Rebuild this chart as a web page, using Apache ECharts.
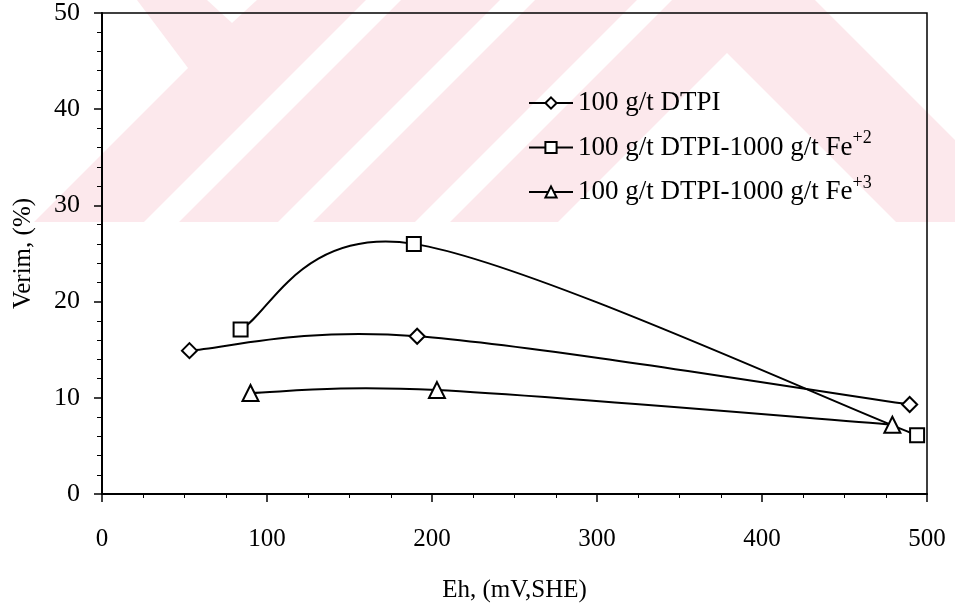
<!DOCTYPE html>
<html>
<head>
<meta charset="utf-8">
<script src="https://cdn.jsdelivr.net/npm/echarts@6/dist/echarts.min.js"></script>
<style>
  html, body { margin: 0; padding: 0; background: #fff; }
  #chart { width: 955px; height: 611px; }
</style>
</head>
<body>
<div id="chart"></div>
<script>
// values
const seriesNames = ['100 g/t DTPI', '100 g/t DTPI-1000 g/t Fe', '100 g/t DTPI-1000 g/t Fe'];
const seriesSup = ['', '+2', '+3'];
const seriesSymbols = ['diamond', 'rect', 'triangle'];

const ehDTPI = [53, 191, 489.5];
const verimDTPI = [14.9, 16.4, 9.3];

const ehFe2 = [84, 189, 494];
const verimFe2 = [17.1, 26.0, 6.1];

const ehFe3 = [90, 203, 479];
const verimFe3 = [10.5, 10.8, 7.2];

const FONT = '"Liberation Serif", "Times New Roman", serif';

const chart = echarts.init(document.getElementById('chart'));

// faint pink watermark behind the plot
const PINK = '#fce8ec';
const wm = (points, fill) => ({
  type: 'polygon',
  shape: { points: points },
  style: { fill: fill }
});
const watermark = [
  wm([[0, 0], [955, 0], [955, 222], [0, 222]], PINK),
  wm([[0, 0], [137, 0], [188, 68], [34, 222], [0, 222]], '#fff'),
  wm([[207, 0], [257, 0], [232, 23]], '#fff'),
  wm([[366, 0], [401, 0], [179, 222], [144, 222]], '#fff'),
  wm([[500, 0], [535, 0], [313, 222], [278, 222]], '#fff'),
  wm([[637, 0], [672, 0], [450, 222], [415, 222]], '#fff'),
  wm([[727, 53], [896, 222], [558, 222]], '#fff'),
  wm([[815, 0], [955, 0], [955, 140]], '#fff')
];

const pairs = (xs, ys) => xs.map((x, i) => [x, ys[i]]);
const seriesData = [pairs(ehDTPI, verimDTPI), pairs(ehFe2, verimFe2), pairs(ehFe3, verimFe3)];
const symbolSizes = [15, 14, 16];
const legendKey = (i) => seriesNames[i] + (seriesSup[i] ? ' ' + seriesSup[i] : '');

// spreadsheet-style smoothed curve through the data points (bezier, 1/6 tangents)
function smoothPath(pts) {
  let d = 'M' + pts[0][0] + ' ' + pts[0][1];
  for (let i = 0; i < pts.length - 1; i++) {
    const p0 = pts[Math.max(i - 1, 0)];
    const p1 = pts[i];
    const p2 = pts[i + 1];
    const p3 = pts[Math.min(i + 2, pts.length - 1)];
    const c1 = [p1[0] + (p2[0] - p0[0]) / 6, p1[1] + (p2[1] - p0[1]) / 6];
    const c2 = [p2[0] - (p3[0] - p1[0]) / 6, p2[1] - (p3[1] - p1[1]) / 6];
    d += ' C' + c1[0] + ' ' + c1[1] + ' ' + c2[0] + ' ' + c2[1] + ' ' + p2[0] + ' ' + p2[1];
  }
  return d;
}

const curveSeries = seriesData.map((d) => ({
  type: 'custom',
  data: d,
  z: 2,
  silent: true,
  renderItem: function (params, api) {
    if (params.dataIndex !== 0) return;
    const pts = d.map((p) => api.coord(p));
    return {
      type: 'path',
      shape: { pathData: smoothPath(pts) },
      style: { stroke: '#000', lineWidth: 2, fill: 'none' }
    };
  }
}));

const pointSeries = seriesData.map((d, i) => ({
  name: legendKey(i),
  type: 'line',
  data: d,
  symbol: seriesSymbols[i],
  symbolSize: symbolSizes[i],
  showAllSymbol: true,
  lineStyle: { color: '#000', width: 2, opacity: 0 },
  itemStyle: { color: '#fff', borderColor: '#000', borderWidth: 2 },
  z: 3
}));

const option = {
  animation: false,
  graphic: { elements: watermark },
  grid: {
    left: 102, right: 28, top: 13, bottom: 117,
    show: true, borderColor: '#000', borderWidth: 1.5, backgroundColor: 'transparent', z: 5
  },
  legend: {
    orient: 'vertical',
    left: 528,
    top: 85,
    padding: 0,
    itemWidth: 44,
    itemHeight: 14,
    itemGap: 8.5,
    data: seriesNames.map((n, i) => legendKey(i)),
    lineStyle: { color: '#000', width: 2, opacity: 1 },
    formatter: function (name) {
      const i = seriesNames.findIndex((n, k) => legendKey(k) === name);
      return '{a|' + seriesNames[i] + '}' + (seriesSup[i] ? '{s|' + seriesSup[i] + '}' : '');
    },
    textStyle: {
      fontFamily: FONT, fontSize: 27, color: '#000', lineHeight: 36,
      rich: {
        a: { fontFamily: FONT, fontSize: 27, lineHeight: 36, color: '#000' },
        s: { fontFamily: FONT, fontSize: 18, lineHeight: 16, verticalAlign: 'top', color: '#000' }
      }
    }
  },
  xAxis: {
    type: 'value',
    min: 0, max: 500, interval: 100,
    name: 'Eh, (mV,SHE)',
    nameLocation: 'middle',
    nameGap: 84,
    nameTextStyle: { fontFamily: FONT, fontSize: 25, color: '#000' },
    axisLine: { show: true, onZero: false, lineStyle: { color: '#000', width: 2 } },
    axisTick: { show: true, inside: false, length: 8, lineStyle: { color: '#000', width: 1.5 } },
    minorTick: { show: true, splitNumber: 4, length: 4, lineStyle: { color: '#000', width: 1 } },
    splitLine: { show: false },
    axisLabel: { fontFamily: FONT, fontSize: 25, color: '#000', margin: 33 }
  },
  yAxis: {
    type: 'value',
    min: 0, max: 50, interval: 10,
    name: 'Verim, (%)',
    nameLocation: 'middle',
    nameGap: 66,
    nameTextStyle: { fontFamily: FONT, fontSize: 25, color: '#000' },
    axisLine: { show: true, onZero: false, lineStyle: { color: '#000', width: 2 } },
    axisTick: { show: true, inside: false, length: 8, lineStyle: { color: '#000', width: 1.5 } },
    minorTick: { show: true, splitNumber: 5, length: 5, lineStyle: { color: '#000', width: 1 } },
    splitLine: { show: false },
    axisLabel: { fontFamily: FONT, fontSize: 26, color: '#000', margin: 22 }
  },
  series: curveSeries.concat(pointSeries)
};

chart.setOption(option);
</script>
</body>
</html>
